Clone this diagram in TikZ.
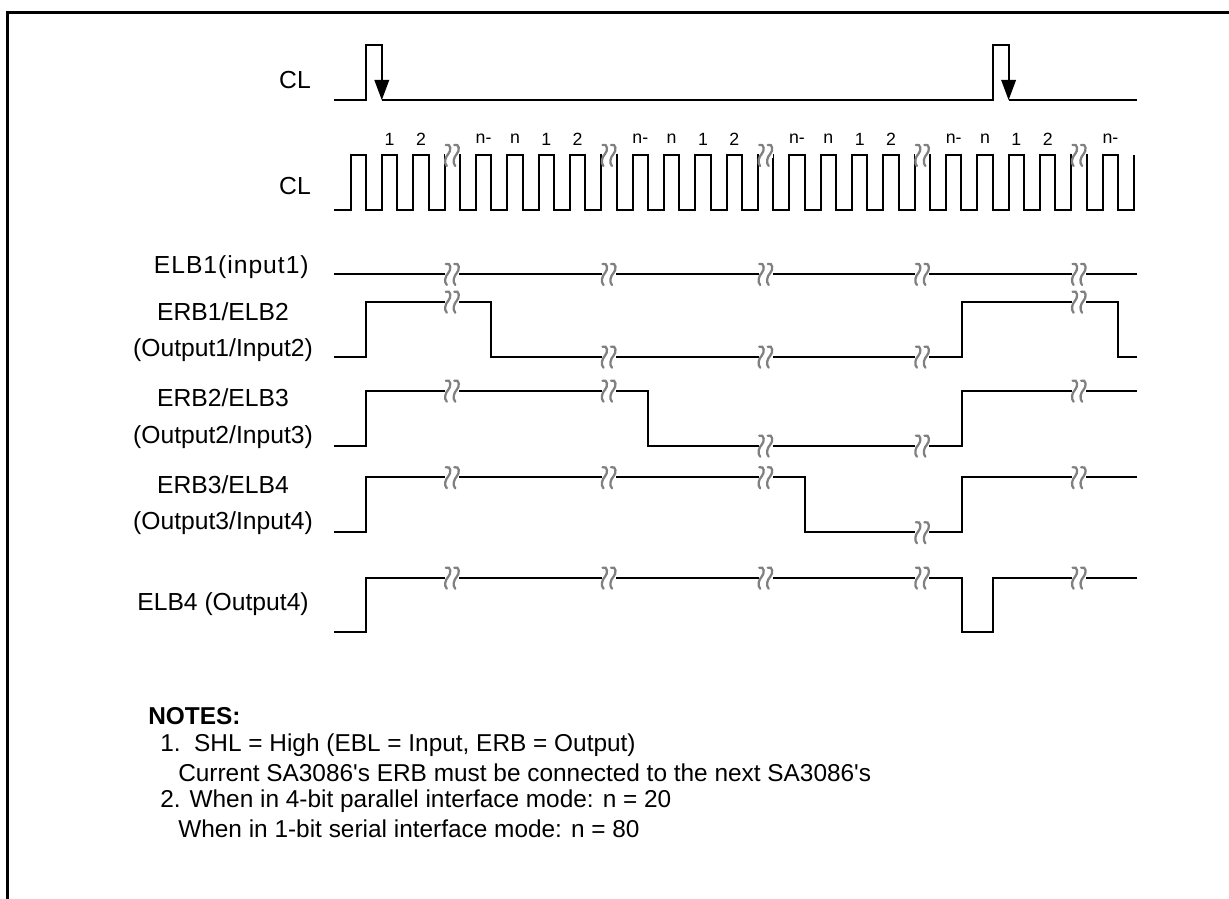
\documentclass[tikz,border=0pt]{standalone}
\usepackage{fontspec}
\setmainfont{Liberation Sans}[Ligatures=TeXOff]
\newcommand\wavebreak[2]{%
  \fill[white] ({#1-7},{#2-3}) rectangle ({#1+7},{#2+3});
  \draw[brkline] ({#1-6.5},{#2-10}) .. controls ({#1-1},{#2-12}) and ({#1-1},{#2-4}) .. ({#1-4},{#2-1}) .. controls ({#1-7},{#2+2}) and ({#1-8.5},{#2+8}) .. ({#1-5.5},{#2+11});
  \draw[brkline] ({#1+2},{#2-10}) .. controls ({#1+7.5},{#2-12}) and ({#1+7.5},{#2-4}) .. ({#1+4.5},{#2-1}) .. controls ({#1+1.5},{#2+2}) and ({#1},{#2+8}) .. ({#1+3},{#2+11});
}
\begin{document}
\begin{tikzpicture}[x=0.75pt,y=-0.75pt,
  wave/.style={line width=1.5pt, line join=miter},
  frame/.style={line width=2.25pt},
  lbl/.style={font=\fontsize{18.5}{20}\selectfont, inner sep=0pt},
  clk/.style={font=\fontsize{13.3}{15}\selectfont, inner sep=0pt},
  note/.style={font=\fontsize{18.3}{20}\selectfont, inner sep=0pt, anchor=west},
  brkline/.style={black!50, line width=1.7pt, line cap=round},
  tip/.style={fill=black}]
\useasboundingbox (0,0) rectangle (1229,899);
% frame
\draw[frame] (7,899) -- (7,12.5) -- (1229,12.5);

% labels
\node[lbl, anchor=east] (lcl1) at (311,80) {CL};
\node[lbl, anchor=east] (lcl2) at (311,186) {CL};
\node[lbl, anchor=east] (lelb1) at (309,267) {\addfontfeature{LetterSpace=4}ELB1(input1)};
\node[lbl] (lerb1a) at (223,312) {ERB1/ELB2};
\node[lbl] (lerb1b) at (223,350) {(Output1/Input2)};
\node[lbl] (lerb2a) at (223,398) {ERB2/ELB3};
\node[lbl] (lerb2b) at (223,437) {(Output2/Input3)};
\node[lbl] (lerb3a) at (223,485) {ERB3/ELB4};
\node[lbl] (lerb3b) at (223,523) {(Output3/Input4)};
\node[lbl, anchor=east] (lelb4) at (309,604) {ELB4 (Output4)};

% CL (frame clock)
\draw[wave] (334,100) -- (366,100) -- (366,45) -- (381.8,45) -- (381.8,82);
\fill[tip] (374.3,80) -- (389.3,80) -- (381.8,100) -- cycle;
\draw[wave] (381.8,100) -- (992.8,100) -- (992.8,45) -- (1008.6,45) -- (1008.6,82);
\fill[tip] (1001.1,80) -- (1016.1,80) -- (1008.6,100) -- cycle;
\draw[wave] (1008.6,100) -- (1137,100);

% CL (shift clock)
\draw[wave] (334,210)
  \foreach \k in {0,...,24} {
    -- ({350.5+31.34*\k},210) -- ({350.5+31.34*\k},155)
    -- ({350.5+31.34*\k+15.5},155) -- ({350.5+31.34*\k+15.5},210)
  } -- (1134,210) -- (1134,155);
\foreach \k in {3,8,13,18,23} { \wavebreak{350.5+31.34*\k+7.75}{155} }
\foreach \k/\t in {1/1,2/2,4/n-,5/n,6/1,7/2,9/n-,10/n,11/1,12/2,14/n-,15/n,16/1,17/2,19/n-,20/n,21/1,22/2,24/n-}
  \node[clk] (c\k) at ({350.5+31.34*\k+7.75},139) {\t};

% ELB1(input1)
\draw[wave] (334,274) -- (1137,274);
\foreach \x in {452.3,609.0,765.7,922.4,1079.1} { \wavebreak{\x}{274} }

% ERB1/ELB2
\draw[wave] (334,356.7) -- (366,356.7) -- (366,301.7) -- (491.4,301.7) -- (491.4,356.7)
  -- (961.5,356.7) -- (961.5,301.7) -- (1118.2,301.7) -- (1118.2,356.7) -- (1137,356.7);
\wavebreak{452.3}{301.7}\wavebreak{609.0}{356.7}\wavebreak{765.7}{356.7}\wavebreak{922.4}{356.7}\wavebreak{1079.1}{301.7}

% ERB2/ELB3
\draw[wave] (334,445.7) -- (366,445.7) -- (366,390.7) -- (648.1,390.7) -- (648.1,445.7)
  -- (961.5,445.7) -- (961.5,390.7) -- (1137,390.7);
\wavebreak{452.3}{390.7}\wavebreak{609.0}{390.7}\wavebreak{765.7}{445.7}\wavebreak{922.4}{445.7}\wavebreak{1079.1}{390.7}

% ERB3/ELB4
\draw[wave] (334,532.3) -- (366,532.3) -- (366,477.3) -- (804.8,477.3) -- (804.8,532.3)
  -- (961.5,532.3) -- (961.5,477.3) -- (1137,477.3);
\wavebreak{452.3}{477.3}\wavebreak{609.0}{477.3}\wavebreak{765.7}{477.3}\wavebreak{922.4}{532.3}\wavebreak{1079.1}{477.3}

% ELB4 (Output4)
\draw[wave] (334,632.3) -- (366,632.3) -- (366,577.7) -- (961.5,577.7) -- (961.5,632.3)
  -- (992.8,632.3) -- (992.8,577.7) -- (1137,577.7);
\wavebreak{452.3}{577.7}\wavebreak{609.0}{577.7}\wavebreak{765.7}{577.7}\wavebreak{922.4}{577.7}\wavebreak{1079.1}{577.7}

% notes
\node[note, font=\fontsize{18.3}{20}\selectfont\bfseries] (nh) at (148,716) {NOTES:};
\node[note] (n1) at (160,745) {1.\ \ SHL = High (EBL = Input, ERB = Output)};
\node[note] (n1b) at (178,773) {Current SA3086's ERB must be connected to the next SA3086's};
\node[note] (n2) at (160,801) {2. When in 4-bit parallel interface mode: n = 20};
\node[note] (n2b) at (178,829) {When in 1-bit serial interface mode: n = 80};
\end{tikzpicture}
\end{document}
